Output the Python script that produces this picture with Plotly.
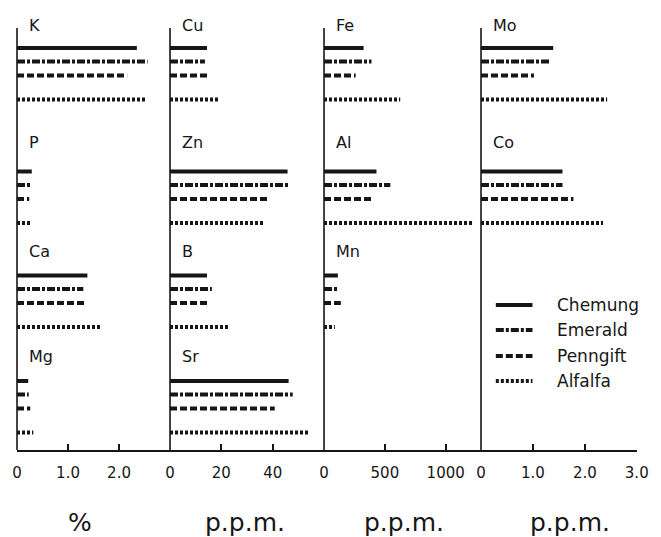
import plotly.graph_objects as go

# Varieties compared in every panel
varieties = ["Chemung", "Emerald", "Penngift", "Alfalfa"]

# Macro-nutrients, % of dry matter
K = [2.35, 2.56, 2.16, 2.52]
P = [0.29, 0.27, 0.24, 0.29]
Ca = [1.38, 1.30, 1.36, 1.65]
Mg = [0.22, 0.23, 0.26, 0.32]

# Trace elements, p.p.m.
Cu = [14.4, 13.6, 14.8, 19.0]
Zn = [45.8, 46.6, 38.4, 36.5]
B = [14.4, 16.3, 14.8, 23.3]
Sr = [46.2, 47.8, 40.8, 54.0]

Fe = [325, 390, 260, 626]
Al = [431, 545, 398, 1220]
Mn = [114, 122, 138, 89]

Mo = [1.39, 1.31, 1.02, 2.43]
Co = [1.57, 1.57, 1.78, 2.35]

# Column contents: element names and their value lists
col_elements = [
    [("K", K), ("P", P), ("Ca", Ca), ("Mg", Mg)],
    [("Cu", Cu), ("Zn", Zn), ("B", B), ("Sr", Sr)],
    [("Fe", Fe), ("Al", Al), ("Mn", Mn)],
    [("Mo", Mo), ("Co", Co)],
]
col_units = ["%", "p.p.m.", "p.p.m.", "p.p.m."]
col_tickvals = [[0, 1, 2], [0, 20, 40], [0, 500, 1000], [0, 1, 2, 3]]
col_ticktext = [["0", "1.0", "2.0"], ["0", "20", "40"],
                ["0", "500", "1000"], ["0", "1.0", "2.0", "3.0"]]

# ---- layout geometry (not data) ----
col_ranges = [[0, 3.0], [0, 60], [0, 1290], [0, 3.005]]
col_domains = [[0.0, 0.2468], [0.2468, 0.4952], [0.4952, 0.7484], [0.7484, 1.0]]
row_base = [33, 156.5, 260.5, 366]          # vertical slot of first bar in each row
bar_offset = [0, 13.5, 27.5, 51.5]          # offsets of the four varieties in a row
label_pos = [10, 127, 236, 341]             # element label position in each row
unit_xpos = [0.413, 0.487, 0.509, 0.57]
divider_top = 0.970                          # top of the column dividers (paper)

# key panel placed in the right-hand column
key_y = [290, 315, 341, 366]
key_x0, key_x1, key_text_x = 0.095, 0.33, 0.475

INK = "#161616"
FONT = "DejaVu Sans"
dash_style = {
    "Chemung": "solid",
    "Emerald": "8px,2px,3px,2px",
    "Penngift": "7px,3px",
    "Alfalfa": "3px,2px",
}

fig = go.Figure()

for vi, variety in enumerate(varieties):
    for ci, elements in enumerate(col_elements):
        xs, ys = [], []
        for ri, (name, vals) in enumerate(elements):
            yv = row_base[ri] + bar_offset[vi]
            xs += [0, vals[vi], None]
            ys += [yv, yv, None]
        axis_id = "" if ci == 0 else str(ci + 1)
        fig.add_trace(go.Scatter(
            x=xs, y=ys, mode="lines",
            xaxis="x" + axis_id, yaxis="y",
            name=variety, showlegend=False,
            line=dict(color=INK, width=4, dash=dash_style[variety]),
            hoverinfo="skip",
        ))

annotations = []
shapes = []
for ci, elements in enumerate(col_elements):
    axis_id = "" if ci == 0 else str(ci + 1)
    key = "xaxis" + axis_id
    fig.layout[key] = dict(
        domain=col_domains[ci], range=col_ranges[ci], anchor="y",
        showgrid=False, zeroline=False,
        showline=True, linecolor=INK, linewidth=1.6,
        ticks="inside", ticklen=6, tickwidth=1.6, tickcolor=INK,
        tickvals=col_tickvals[ci], ticktext=col_ticktext[ci],
        tickfont=dict(family=FONT, size=15, color=INK),
        ticklabelstandoff=8,
        fixedrange=True,
    )
    # column divider / value axis origin
    shapes.append(dict(type="line", xref="x" + axis_id + " domain", yref="paper",
                       x0=0, x1=0, y0=0, y1=divider_top,
                       line=dict(color=INK, width=1.6)))
    for ri, (name, vals) in enumerate(elements):
        annotations.append(dict(
            text=name, xref="x" + axis_id + " domain", yref="y",
            x=0.065, y=label_pos[ri], xanchor="left", yanchor="middle",
            showarrow=False, font=dict(family=FONT, size=16, color=INK),
        ))
    annotations.append(dict(
        text=col_units[ci], xref="x" + axis_id + " domain", yref="paper",
        x=unit_xpos[ci], y=0, yshift=-72, xanchor="center", yanchor="middle",
        showarrow=False, font=dict(family=FONT, size=25, color=INK),
    ))

# key: line sample + variety name
for vi, variety in enumerate(varieties):
    shapes.append(dict(type="line", xref="x4 domain", yref="y",
                       x0=key_x0, x1=key_x1, y0=key_y[vi], y1=key_y[vi],
                       line=dict(color=INK, width=4, dash=dash_style[variety])))
    annotations.append(dict(
        text=variety, xref="x4 domain", yref="y",
        x=key_text_x, y=key_y[vi], xanchor="left", yanchor="middle",
        showarrow=False, font=dict(family=FONT, size=17, color=INK),
    ))

fig.update_layout(
    width=661, height=537,
    margin=dict(l=17, r=16, t=15, b=87),
    paper_bgcolor="white", plot_bgcolor="white",
    yaxis=dict(range=[435, 0], visible=False, fixedrange=True,
               domain=[0, 1]),
    showlegend=False,
    annotations=annotations,
    shapes=shapes,
)

fig.write_html("out.html")
